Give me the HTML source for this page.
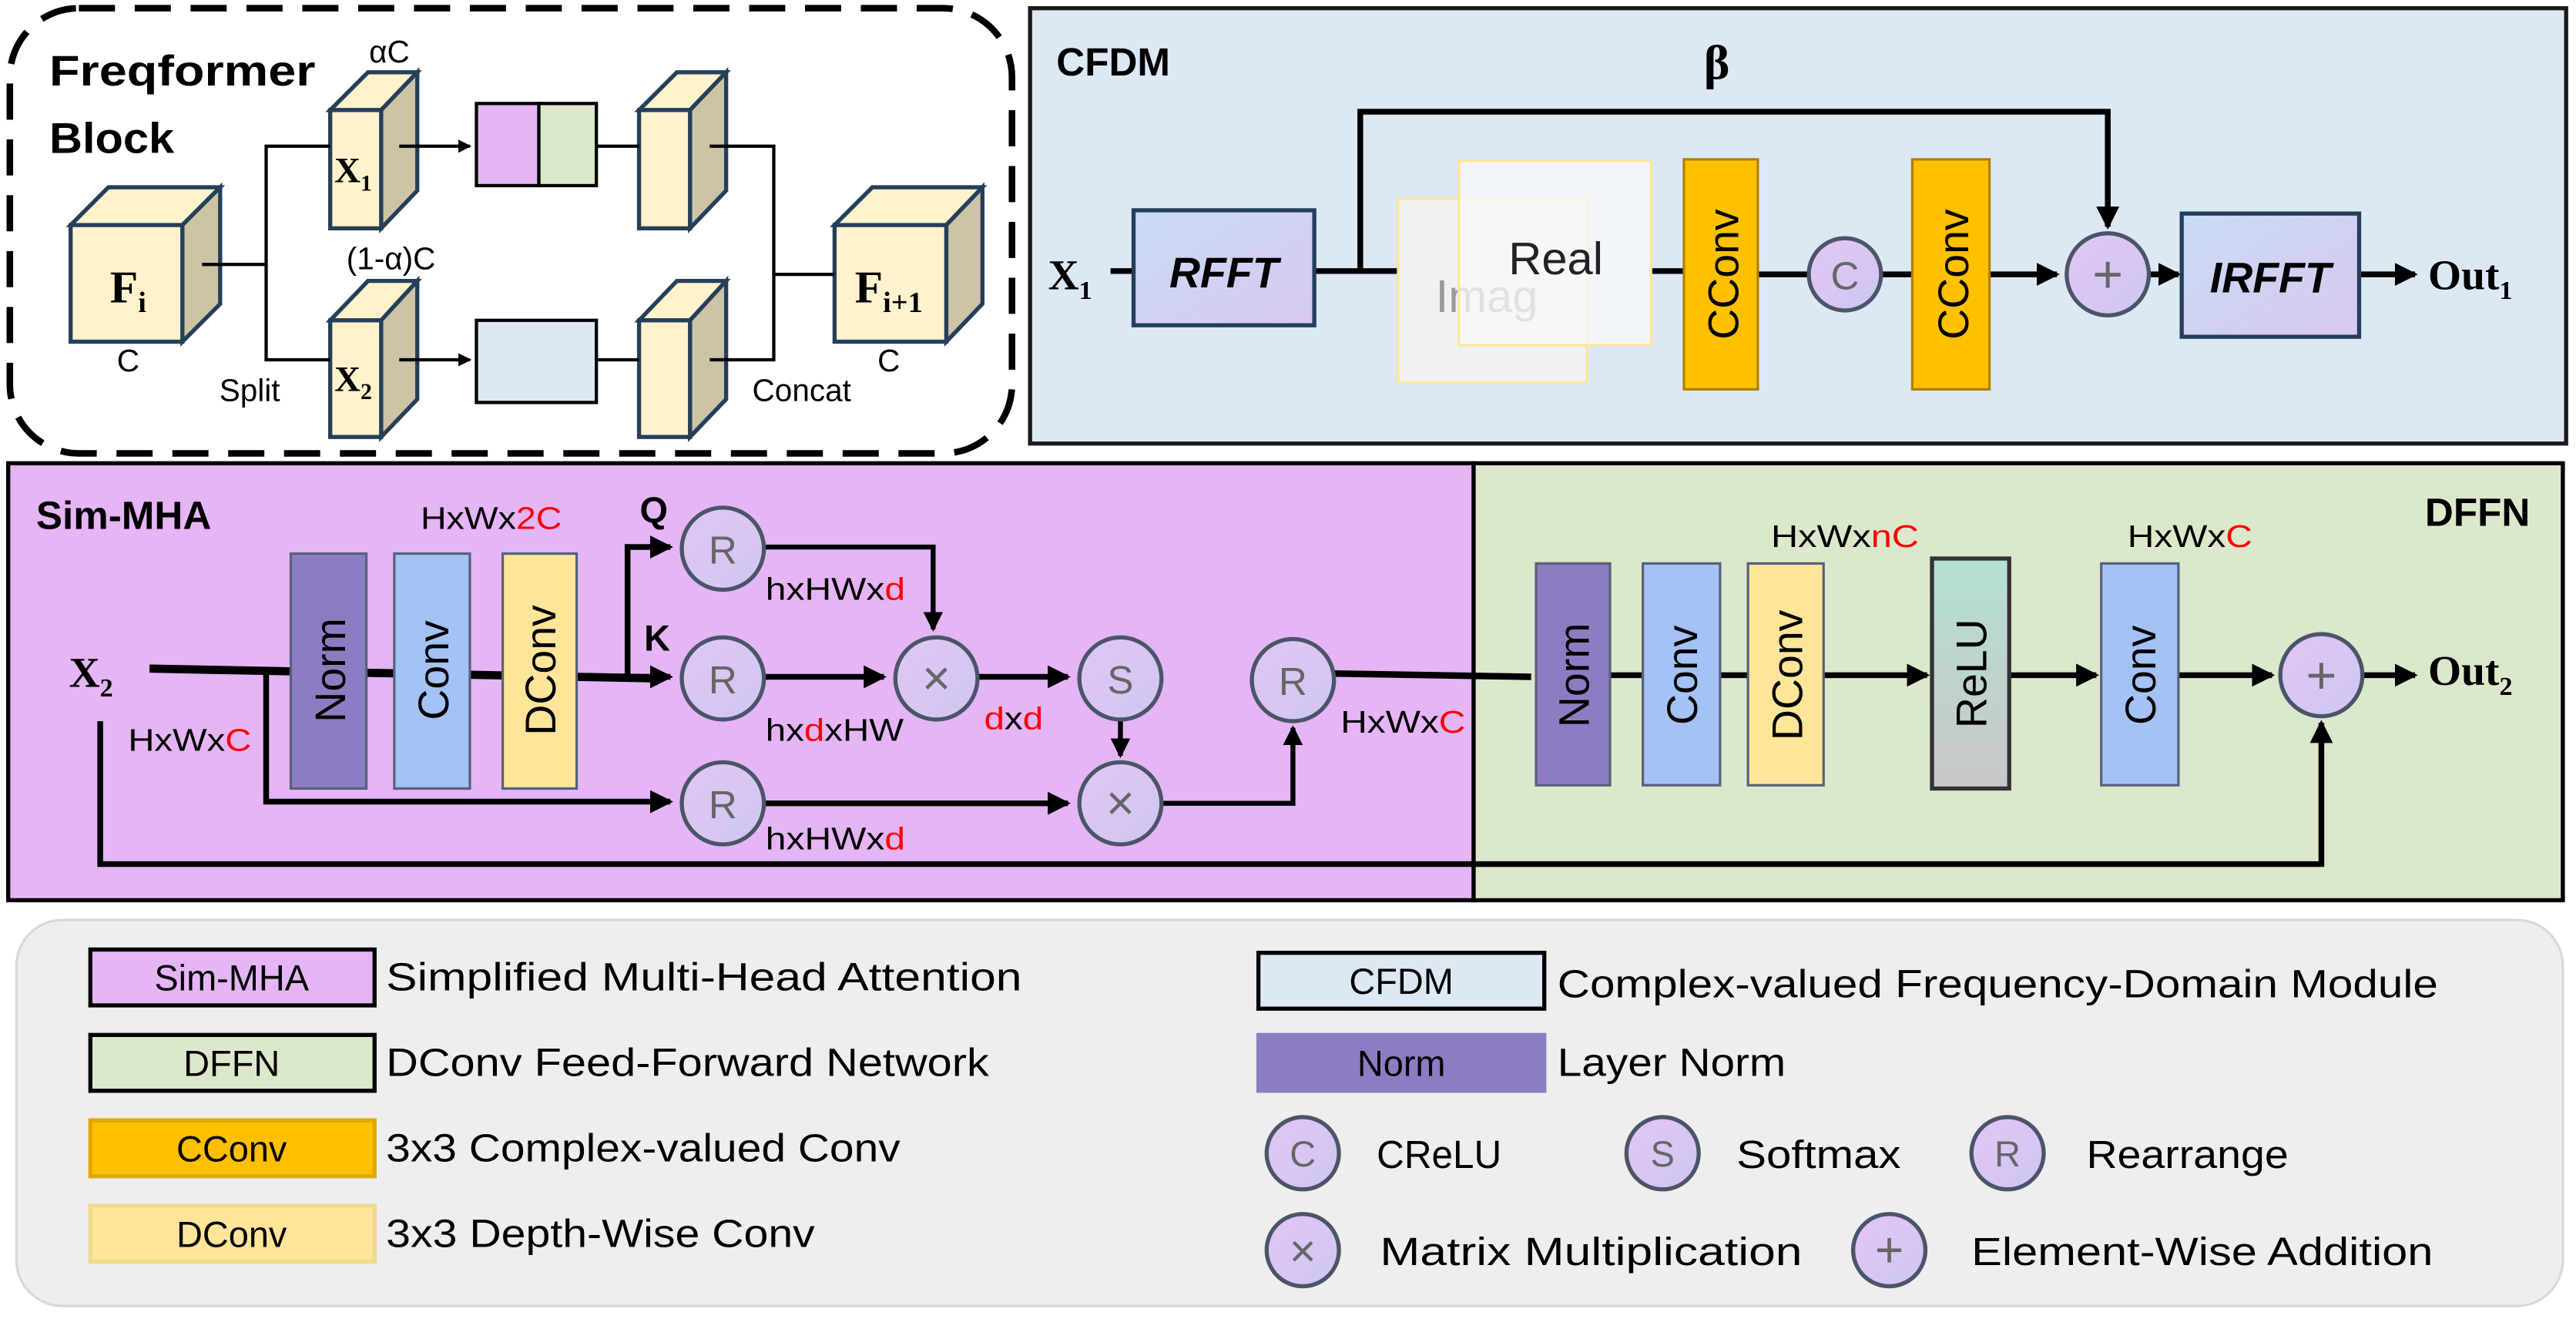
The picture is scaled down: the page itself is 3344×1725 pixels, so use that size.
<!DOCTYPE html>
<html><head><meta charset="utf-8"><style>
html,body{margin:0;padding:0;background:#fff;}
svg{display:block;}
text{font-family:"Liberation Sans",sans-serif;}
.s{font-family:"Liberation Serif",serif;font-weight:bold;}
</style></head><body>
<svg width="3344" height="1725" viewBox="0 0 1568 809" preserveAspectRatio="none" xmlns="http://www.w3.org/2000/svg">
<defs>
<marker id="b" markerWidth="4" markerHeight="4" refX="3.5" refY="2" orient="auto" markerUnits="strokeWidth"><path d="M0,0 L4,2 L0,4 z" fill="#000"/></marker>
<linearGradient id="cg" x1="0" y1="0" x2="1" y2="1"><stop offset="0" stop-color="#e2c6f4"/><stop offset="1" stop-color="#cfc6f2"/></linearGradient>
<linearGradient id="rf" x1="0" y1="0" x2="1" y2="1"><stop offset="0" stop-color="#c8dcf5"/><stop offset="1" stop-color="#d9c8f0"/></linearGradient>
<linearGradient id="rl" x1="0" y1="0" x2="0" y2="1"><stop offset="0" stop-color="#b5e0d0"/><stop offset="1" stop-color="#c8c8c8"/></linearGradient>
</defs>

<!-- Freqformer block -->
<rect x="6" y="5" width="610" height="271" rx="42" fill="#fff" stroke="#000" stroke-width="4" stroke-dasharray="22,12"/>
<text x="30" y="52" font-size="26" font-weight="bold" textLength="162" lengthAdjust="spacingAndGlyphs">Freqformer</text>
<text x="30" y="93" font-size="26" font-weight="bold" textLength="76" lengthAdjust="spacingAndGlyphs">Block</text>
<g stroke="#243f5a" stroke-width="2.5">
<polygon points="43,137 66,114 134,114 111,137" fill="#fff2cc"/>
<polygon points="111,137 134,114 134,185 111,208" fill="#cdc3a5"/>
<rect x="43" y="137" width="68" height="71" fill="#fff2cc"/>
<polygon points="508,137 531,114 598,114 576,137" fill="#fff2cc"/>
<polygon points="576,137 598,114 598,185 576,208" fill="#cdc3a5"/>
<rect x="508" y="137" width="68" height="71" fill="#fff2cc"/>
<polygon points="201,67 224,44 254,44 232,67" fill="#fff2cc"/>
<polygon points="232,67 254,44 254,116 232,139" fill="#cdc3a5"/>
<rect x="201" y="67" width="31" height="72" fill="#fff2cc"/>
<polygon points="201,195 224,171 254,171 232,195" fill="#fff2cc"/>
<polygon points="232,195 254,171 254,243 232,266" fill="#cdc3a5"/>
<rect x="201" y="195" width="31" height="71" fill="#fff2cc"/>
<polygon points="389,67 412,44 442,44 420,67" fill="#fff2cc"/>
<polygon points="420,67 442,44 442,116 420,139" fill="#cdc3a5"/>
<rect x="389" y="67" width="31" height="72" fill="#fff2cc"/>
<polygon points="389,195 412,171 442,171 420,195" fill="#fff2cc"/>
<polygon points="420,195 442,171 442,243 420,266" fill="#cdc3a5"/>
<rect x="389" y="195" width="31" height="71" fill="#fff2cc"/>
</g>
<g stroke="#000" stroke-width="2" fill="none">
<polyline points="123,161 162,161"/>
<polyline points="201,89 162,89 162,219 201,219"/>
<polyline points="432,89 471,89 471,219 432,219"/>
<line x1="471" y1="167" x2="508" y2="167"/>
<line x1="363" y1="89" x2="389" y2="89"/>
<line x1="363" y1="219" x2="389" y2="219"/>
<line x1="243" y1="89" x2="286" y2="89" marker-end="url(#b)"/>
<line x1="243" y1="219" x2="286" y2="219" marker-end="url(#b)"/>
</g>
<rect x="290" y="63" width="38" height="50" fill="#e5b5f5" stroke="#000" stroke-width="2"/>
<rect x="328" y="63" width="35" height="50" fill="#dce8cc" stroke="#000" stroke-width="2"/>
<rect x="290" y="195" width="73" height="50" fill="#dde8f5" stroke="#000" stroke-width="2"/>
<text x="78" y="184" class="s" font-size="28" text-anchor="middle">F<tspan font-size="18" dy="6">i</tspan></text>
<text x="541" y="184" class="s" font-size="28" text-anchor="middle">F<tspan font-size="18" dy="6">i+1</tspan></text>
<text x="215" y="111" class="s" font-size="22" text-anchor="middle">X<tspan font-size="14" dy="5">1</tspan></text>
<text x="215" y="238" class="s" font-size="22" text-anchor="middle">X<tspan font-size="14" dy="5">2</tspan></text>
<text x="237" y="38" font-size="19" text-anchor="middle">αC</text>
<text x="238" y="164" font-size="19" text-anchor="middle">(1-α)C</text>
<text x="78" y="226" font-size="19" text-anchor="middle">C</text>
<text x="541" y="226" font-size="19" text-anchor="middle">C</text>
<text x="152" y="244" font-size="19" text-anchor="middle">Split</text>
<text x="488" y="244" font-size="19" text-anchor="middle">Concat</text>

<!-- CFDM -->
<rect x="627" y="5" width="935" height="265" fill="#dde8f5" stroke="#1a1a1a" stroke-width="2.5"/>
<text x="643" y="46" font-size="24" font-weight="bold">CFDM</text>
<text x="1045" y="48" font-size="30" font-weight="bold" text-anchor="middle" class="s">β</text>
<text x="638" y="176" class="s" font-size="26">X<tspan font-size="16" dy="6">1</tspan></text>
<g stroke="#000" stroke-width="3.5" fill="none">
<line x1="676" y1="165" x2="690" y2="165"/>
<line x1="800" y1="165" x2="851" y2="165"/>
<polyline points="828,165 828,68 1283,68 1283,138" marker-end="url(#b)"/>
<line x1="1005" y1="165" x2="1025" y2="165"/>
<line x1="1070" y1="167" x2="1100" y2="167"/>
<line x1="1146" y1="167" x2="1164" y2="167"/>
<line x1="1211" y1="167" x2="1252" y2="167" marker-end="url(#b)"/>
<line x1="1308" y1="167" x2="1326" y2="167" marker-end="url(#b)"/>
<line x1="1436" y1="167" x2="1470" y2="167" marker-end="url(#b)"/>
</g>
<rect x="690" y="128" width="110" height="70" fill="url(#rf)" stroke="#243f5a" stroke-width="2.5"/>
<text x="745" y="175" font-size="26" font-weight="bold" font-style="italic" text-anchor="middle">RFFT</text>
<rect x="851" y="121" width="115" height="112" fill="#fbf8ec" fill-opacity="0.6" stroke="#ffe599" stroke-width="1.5"/>
<text x="905" y="190" font-size="28" fill="#999" text-anchor="middle">Imag</text>
<rect x="888" y="98" width="117" height="112" fill="#f8f9fb" fill-opacity="0.75" stroke="#ffe599" stroke-width="1.5"/>
<text x="947" y="167" font-size="28" fill="#222" text-anchor="middle">Real</text>
<rect x="1025" y="97" width="45" height="140" fill="#ffc000" stroke="#b08000" stroke-width="1.5"/>
<text transform="translate(1058,167) rotate(-90)" font-size="26" text-anchor="middle">CConv</text>
<rect x="1164" y="97" width="47" height="140" fill="#ffc000" stroke="#b08000" stroke-width="1.5"/>
<text transform="translate(1198,167) rotate(-90)" font-size="26" text-anchor="middle">CConv</text>
<circle cx="1123" cy="167" r="22" fill="url(#cg)" stroke="#4a5568" stroke-width="2.5"/>
<text x="1123" y="176" font-size="24" fill="#666" text-anchor="middle">C</text>
<circle cx="1283" cy="167" r="25" fill="url(#cg)" stroke="#4a5568" stroke-width="2.5"/>
<text x="1283" y="178" font-size="32" fill="#666" text-anchor="middle">+</text>
<rect x="1328" y="130" width="108" height="75" fill="url(#rf)" stroke="#243f5a" stroke-width="2.5"/>
<text x="1382" y="178" font-size="26" font-weight="bold" font-style="italic" text-anchor="middle">IRFFT</text>
<text x="1478" y="176" class="s" font-size="26">Out<tspan font-size="16" dy="6">1</tspan></text>

<!-- Sim-MHA and DFFN -->
<rect x="5" y="282" width="892" height="266" fill="#e5b5f5" stroke="#000" stroke-width="2.5"/>
<rect x="897" y="282" width="663" height="266" fill="#dce8cc" stroke="#000" stroke-width="2.5"/>
<text x="22" y="322" font-size="24" font-weight="bold">Sim-MHA</text>
<text x="1540" y="320" font-size="24" font-weight="bold" text-anchor="end">DFFN</text>
<text x="256" y="322" font-size="19" textLength="86" lengthAdjust="spacingAndGlyphs">HxWx<tspan fill="#f00">2C</tspan></text>
<text x="42" y="418" class="s" font-size="26">X<tspan font-size="16" dy="6">2</tspan></text>
<text x="78" y="457" font-size="19" textLength="75" lengthAdjust="spacingAndGlyphs">HxWx<tspan fill="#f00">C</tspan></text>
<text x="398" y="318" font-size="22" font-weight="bold" text-anchor="middle">Q</text>
<text x="400" y="396" font-size="22" font-weight="bold" text-anchor="middle">K</text>
<text x="466" y="365" font-size="19" textLength="85" lengthAdjust="spacingAndGlyphs">hxHWx<tspan fill="#f00">d</tspan></text>
<text x="466" y="451" font-size="19" textLength="84" lengthAdjust="spacingAndGlyphs">hx<tspan fill="#f00">d</tspan>xHW</text>
<text x="599" y="444" font-size="19" fill="#f00" textLength="36" lengthAdjust="spacingAndGlyphs">d<tspan fill="#000">x</tspan>d</text>
<text x="466" y="517" font-size="19" textLength="85" lengthAdjust="spacingAndGlyphs">hxHWx<tspan fill="#f00">d</tspan></text>
<text x="816" y="446" font-size="19" textLength="76" lengthAdjust="spacingAndGlyphs">HxWx<tspan fill="#f00">C</tspan></text>
<text x="1078" y="333" font-size="19" textLength="90" lengthAdjust="spacingAndGlyphs">HxWx<tspan fill="#f00">nC</tspan></text>
<text x="1295" y="333" font-size="19" textLength="76" lengthAdjust="spacingAndGlyphs">HxWx<tspan fill="#f00">C</tspan></text>
<text x="1478" y="417" class="s" font-size="26">Out<tspan font-size="16" dy="6">2</tspan></text>

<g stroke="#000" stroke-width="3.5" fill="none">
<polyline points="91,407 403,413" stroke-width="5"/>
<polyline points="162,408 162,488 408,488" marker-end="url(#b)"/>
<polyline points="382,411 382,333 408,333" marker-end="url(#b)"/>
<line x1="380" y1="412" x2="408" y2="412" marker-end="url(#b)"/>
<polyline points="465,333 568,333 568,383" marker-end="url(#b)" stroke-width="3"/>
<line x1="465" y1="412" x2="538" y2="412" marker-end="url(#b)"/>
<line x1="595" y1="412" x2="650" y2="412" marker-end="url(#b)"/>
<line x1="682" y1="438" x2="682" y2="460" marker-end="url(#b)" stroke-width="3"/>
<line x1="465" y1="489" x2="650" y2="489" marker-end="url(#b)"/>
<polyline points="707,489 787,489 787,443" marker-end="url(#b)" stroke-width="3"/>
<line x1="812" y1="410" x2="932" y2="412" stroke-width="4"/>
<polyline points="61,439 61,526 1413,526 1413,440" marker-end="url(#b)"/>
<line x1="980" y1="411" x2="1000" y2="411"/>
<line x1="1047" y1="411" x2="1064" y2="411"/>
<line x1="1110" y1="411" x2="1173" y2="411" marker-end="url(#b)"/>
<line x1="1223" y1="411" x2="1276" y2="411" marker-end="url(#b)"/>
<line x1="1326" y1="411" x2="1383" y2="411" marker-end="url(#b)"/>
<line x1="1438" y1="411" x2="1470" y2="411" marker-end="url(#b)"/>
</g>
<g stroke="#55627a" stroke-width="1.5">
<rect x="177" y="337" width="46" height="143" fill="#8e7cc3"/>
<rect x="240" y="337" width="46" height="143" fill="#a4c2f4"/>
<rect x="306" y="337" width="45" height="143" fill="#ffe599"/>
<rect x="935" y="343" width="45" height="135" fill="#8e7cc3"/>
<rect x="1000" y="343" width="47" height="135" fill="#a4c2f4"/>
<rect x="1064" y="343" width="46" height="135" fill="#ffe599"/>
<rect x="1176" y="340" width="47" height="140" fill="url(#rl)" stroke="#333" stroke-width="2.5"/>
<rect x="1279" y="343" width="47" height="135" fill="#a4c2f4"/>
</g>
<g font-size="26" text-anchor="middle">
<text transform="translate(210,408) rotate(-90)">Norm</text>
<text transform="translate(273,408) rotate(-90)">Conv</text>
<text transform="translate(338,408) rotate(-90)">DConv</text>
<text transform="translate(967,411) rotate(-90)">Norm</text>
<text transform="translate(1033,411) rotate(-90)">Conv</text>
<text transform="translate(1097,411) rotate(-90)">DConv</text>
<text transform="translate(1209,410) rotate(-90)">ReLU</text>
<text transform="translate(1312,411) rotate(-90)">Conv</text>
</g>
<g fill="url(#cg)" stroke="#4a5568" stroke-width="2.5">
<circle cx="440" cy="334" r="25"/><circle cx="440" cy="413" r="25"/><circle cx="440" cy="489" r="25"/>
<circle cx="570" cy="413" r="25"/><circle cx="682" cy="413" r="25"/><circle cx="682" cy="489" r="25"/>
<circle cx="787" cy="414" r="25"/><circle cx="1413" cy="411" r="25"/>
</g>
<g font-size="24" fill="#666" text-anchor="middle">
<text x="440" y="343">R</text><text x="440" y="422">R</text><text x="440" y="498">R</text>
<text x="570" y="423" font-size="30">×</text><text x="682" y="422">S</text><text x="682" y="499" font-size="30">×</text>
<text x="787" y="423">R</text><text x="1413" y="422" font-size="32">+</text>
</g>

<!-- Legend -->
<rect x="10" y="560" width="1550" height="235" rx="28" fill="#eeeeee" stroke="#d8d8d8" stroke-width="1.5"/>
<g stroke="#000" stroke-width="2.5">
<rect x="55" y="578" width="173" height="34" fill="#e5b5f5"/>
<rect x="55" y="630" width="173" height="34" fill="#dce8cc"/>
<rect x="55" y="682" width="173" height="34" fill="#ffc000" stroke="#e0a800"/>
<rect x="55" y="734" width="173" height="34" fill="#ffe599" stroke="#f0d890"/>
<rect x="766" y="580" width="174" height="34" fill="#dde8f5"/>
<rect x="766" y="630" width="174" height="34" fill="#8e7cc3" stroke="#8e7cc3"/>
</g>
<g font-size="22" text-anchor="middle">
<text x="141" y="603">Sim-MHA</text>
<text x="141" y="655">DFFN</text>
<text x="141" y="707">CConv</text>
<text x="141" y="759">DConv</text>
<text x="853" y="605">CFDM</text>
<text x="853" y="655">Norm</text>
</g>
<g font-size="24" lengthAdjust="spacingAndGlyphs">
<text x="235" y="603" textLength="387" lengthAdjust="spacingAndGlyphs">Simplified Multi-Head Attention</text>
<text x="235" y="655" textLength="367" lengthAdjust="spacingAndGlyphs">DConv Feed-Forward Network</text>
<text x="235" y="707" textLength="313" lengthAdjust="spacingAndGlyphs">3x3 Complex-valued Conv</text>
<text x="235" y="759" textLength="261" lengthAdjust="spacingAndGlyphs">3x3 Depth-Wise Conv</text>
<text x="948" y="607" textLength="536" lengthAdjust="spacingAndGlyphs">Complex-valued Frequency-Domain Module</text>
<text x="948" y="655" textLength="139" lengthAdjust="spacingAndGlyphs">Layer Norm</text>
<text x="838" y="711" textLength="76" lengthAdjust="spacingAndGlyphs">CReLU</text>
<text x="1057" y="711" textLength="100" lengthAdjust="spacingAndGlyphs">Softmax</text>
<text x="1270" y="711" textLength="123" lengthAdjust="spacingAndGlyphs">Rearrange</text>
<text x="840" y="770" textLength="257" lengthAdjust="spacingAndGlyphs">Matrix Multiplication</text>
<text x="1200" y="770" textLength="281" lengthAdjust="spacingAndGlyphs">Element-Wise Addition</text>
</g>
<g fill="url(#cg)" stroke="#4a5568" stroke-width="2.5">
<circle cx="793" cy="702" r="22"/><circle cx="1012" cy="702" r="22"/><circle cx="1222" cy="702" r="22"/>
<circle cx="793" cy="761" r="22"/><circle cx="1150" cy="761" r="22"/>
</g>
<g font-size="22" fill="#666" text-anchor="middle">
<text x="793" y="710">C</text><text x="1012" y="710">S</text><text x="1222" y="710">R</text>
<text x="793" y="771" font-size="28">×</text><text x="1150" y="771" font-size="30">+</text>
</g>
</svg>
</body></html>
